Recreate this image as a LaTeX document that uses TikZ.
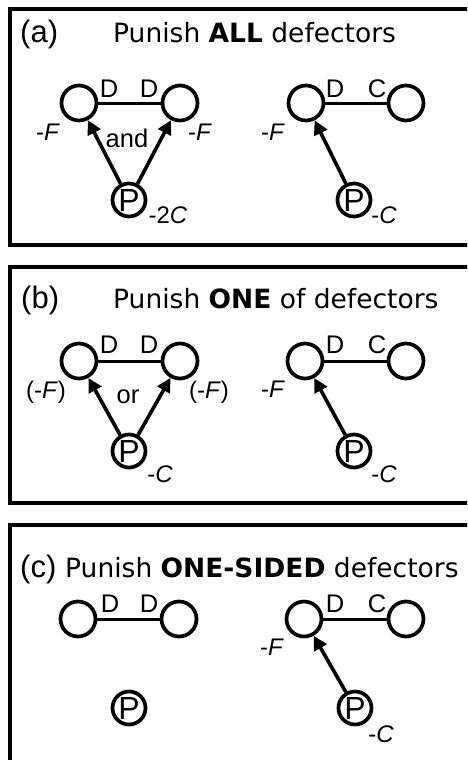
\documentclass[tikz,border=0pt]{standalone}
\usepackage{fontspec}
\setmainfont{Liberation Sans}
\newfontfamily\titlefont{DejaVu Sans}
\usetikzlibrary{arrows.meta}
\begin{document}
\begin{tikzpicture}[x=1pt,y=-1pt,
  player/.style={circle,draw,line width=3.7pt,minimum size=35pt,inner sep=0pt},
  pun/.style={circle,draw,line width=3.7pt,minimum size=33pt,inner sep=0pt,font=\fontsize{32}{32}\selectfont},
  link/.style={line width=3pt},
  arr/.style={line width=3.6pt,-{Triangle[length=14pt,width=14pt]}},
  lab/.style={anchor=base,inner sep=0pt,font=\fontsize{25.5}{26}\selectfont},
  pay/.style={anchor=base,inner sep=0pt,font=\fontsize{24}{24}\selectfont},
  word/.style={anchor=base,inner sep=0pt,font=\fontsize{25.5}{26}\selectfont},
  tag/.style={anchor=base west,inner sep=0pt,font=\fontsize{31}{31}\selectfont},
  ttl/.style={anchor=base west,inner sep=0pt,font=\titlefont\fontsize{26.5}{30}\selectfont},
  panel/.style={line width=4.5pt}]
\clip (0,0) rectangle (467,760);
\fill[white] (0,0) rectangle (467,760);

% ---------- panel (a) ----------
\draw[panel] (10,9) rectangle (495,245);
\node[tag] (atag) at (20,43) {(a)};
\node[ttl] (attl) at (113,43) {Punish \textbf{ALL} defectors};
\node[player] (aL1) at (79,103) {};
\node[player] (aL2) at (180,103) {};
\node[pun] (aP1) at (129,200) {P};
\draw[link] (aL1) -- (aL2);
\draw[arr] (aP1) -- (aL1);
\draw[arr] (aP1) -- (aL2);
\node[lab] (aD1) at (109,97) {D};
\node[lab] (aD2) at (149,97) {D};
\node[pay] (aF1) at (48,140) {-\textit{F}};
\node[pay] (aF2) at (200,140) {-\textit{F}};
\node[word] (aand) at (127,147) {and};
\node[pay] (aC1) at (168,223) {-2\textit{C}};
\node[player] (aR1) at (306,103) {};
\node[player] (aR2) at (406,103) {};
\node[pun] (aP2) at (354,200) {P};
\draw[link] (aR1) -- (aR2);
\draw[arr] (aP2) -- (aR1);
\node[lab] (aD3) at (335,97) {D};
\node[lab] (aC3) at (377,97) {C};
\node[pay] (aF3) at (273,140) {-\textit{F}};
\node[pay] (aC2) at (384,223) {-\textit{C}};

% ---------- panel (b) ----------
\draw[panel] (10,267) rectangle (495,503);
\node[tag] (btag) at (21,308) {(b)};
\node[ttl] (bttl) at (113,308) {Punish \textbf{ONE} of defectors};
\node[player] (bL1) at (79,361) {};
\node[player] (bL2) at (180,361) {};
\node[pun] (bP1) at (129,451) {P};
\draw[link] (bL1) -- (bL2);
\draw[arr] (bP1) -- (bL1);
\draw[arr] (bP1) -- (bL2);
\node[lab] (bD1) at (109,353) {D};
\node[lab] (bD2) at (149,353) {D};
\node[pay] (bF1) at (46,398) {(-\textit{F})};
\node[pay] (bF2) at (209,398) {(-\textit{F})};
\node[word] (bor) at (128,403) {or};
\node[pay] (bC1) at (160,482) {-\textit{C}};
\node[player] (bR1) at (305,361) {};
\node[player] (bR2) at (406,361) {};
\node[pun] (bP2) at (354,451) {P};
\draw[link] (bR1) -- (bR2);
\draw[arr] (bP2) -- (bR1);
\node[lab] (bD3) at (335,353) {D};
\node[lab] (bC3) at (377,353) {C};
\node[pay] (bF3) at (273,397) {-\textit{F}};
\node[pay] (bC2) at (384,482) {-\textit{C}};

% ---------- panel (c) ----------
\draw[panel] (10,525) rectangle (495,800);
\node[tag] (ctag) at (20,577) {(c)};
\node[ttl] (cttl) at (65,577) {Punish \textbf{ONE-SIDED} defectors};
\node[player] (cL1) at (78,619) {};
\node[player] (cL2) at (179,619) {};
\node[pun] (cP1) at (129,708) {P};
\draw[link] (cL1) -- (cL2);
\node[lab] (cD1) at (110,612) {D};
\node[lab] (cD2) at (149,612) {D};
\node[player] (cR1) at (304,619) {};
\node[player] (cR2) at (406,619) {};
\node[pun] (cP2) at (355,708) {P};
\draw[link] (cR1) -- (cR2);
\draw[arr] (cP2) -- (cR1);
\node[lab] (cD3) at (335,612) {D};
\node[lab] (cC3) at (377,612) {C};
\node[pay] (cF3) at (272,655) {-\textit{F}};
\node[pay] (cC2) at (381,742) {-\textit{C}};
\end{tikzpicture}
\end{document}
